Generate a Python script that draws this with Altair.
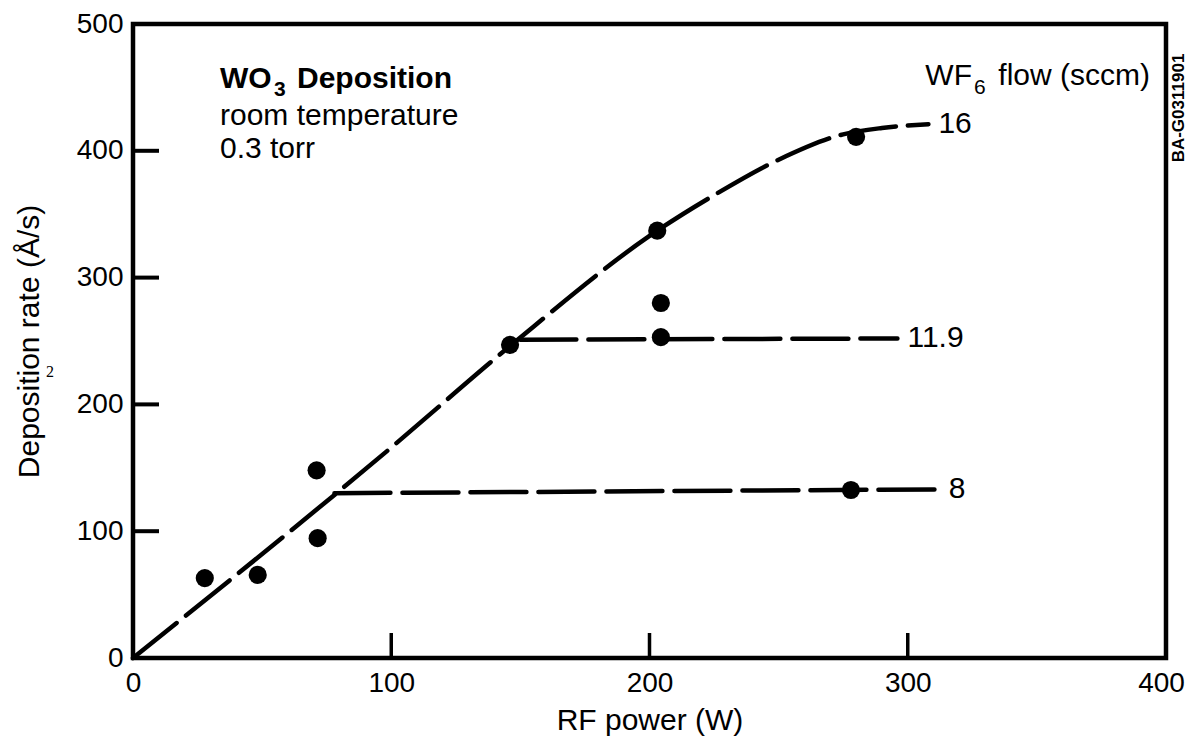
import altair as alt
import pandas as pd

# ---------------- data ----------------
x_tick_values = [0, 100, 200, 300, 400]
y_tick_values = [0, 100, 200, 300, 400, 500]
inner_x_ticks = [100, 200, 300]
inner_y_ticks = [100, 200, 300, 400]

# measured points (RF power W, deposition rate A/s)
pt_power = [27.8, 48.3, 71.1, 71.5, 146, 203, 204.4, 204.4, 280, 278]
pt_rate = [63, 65.5, 148, 94.5, 247, 337, 280, 253, 411, 132.5]

# dashed guide curves per WF6 flow (sccm)
flow16_power = [0, 100, 146, 203, 225, 250, 275, 290, 308]
flow16_rate = [0, 166, 246, 337, 365, 393, 413, 418, 421]
flow119_power = [150, 296]
flow119_rate = [251, 252]
flow8_power = [78, 312]
flow8_rate = [130, 133]
flow_names = ["16", "11.9", "8"]

# ---------------- tables ----------------
rows = []
for name, xs, ys in zip(flow_names,
                        [flow16_power, flow119_power, flow8_power],
                        [flow16_rate, flow119_rate, flow8_rate]):
    for i, (a, b) in enumerate(zip(xs, ys)):
        rows.append({"flow": name, "i": i, "power": a, "rate": b})
lines_df = pd.DataFrame(rows)
ends_df = lines_df.sort_values("i").groupby("flow", sort=False).tail(1)
pts_df = pd.DataFrame({"power": pt_power, "rate": pt_rate})
yt_df = pd.DataFrame({"rate": inner_y_ticks})
xt_df = pd.DataFrame({"power": inner_x_ticks})

FONT = "Liberation Sans"
W, H = 1033, 634

xscale = alt.Scale(domain=[0, 400], nice=False, zero=False)
yscale = alt.Scale(domain=[0, 500], nice=False, zero=False)
xaxis = alt.Axis(values=x_tick_values, title="RF power (W)", domain=False, ticks=False,
                 grid=False, labelFontSize=28, labelFont=FONT, labelColor="black",
                 labelPadding=11, titleFont=FONT, titleFontSize=30, titleFontWeight="normal",
                 titleColor="black", titlePadding=8, labelFlush=False,
                 labelOffset={"condition": {"test": "datum.value === 400", "value": -5},
                              "value": 0})
yaxis = alt.Axis(values=y_tick_values, title="Deposition rate (Å/s)", domain=False, ticks=False,
                 grid=False, labelFontSize=28, labelFont=FONT, labelColor="black",
                 labelPadding=10, titleFont=FONT, titleFontSize=30, titleFontWeight="normal",
                 titleColor="black", titlePadding=32, labelFlush=False)


def X():
    return alt.X("power:Q", scale=xscale, axis=xaxis)


def Y():
    return alt.Y("rate:Q", scale=yscale, axis=yaxis)


lines = alt.Chart(lines_df).mark_line(
    color="black", strokeWidth=4.5, strokeDash=[56, 12], strokeCap="round",
    interpolate="monotone", clip=False
).encode(x=X(), y=Y(), detail="flow:N", order="i:Q")

points = alt.Chart(pts_df).mark_point(
    filled=True, shape="circle", size=330, color="black", opacity=1
).encode(x=X(), y=Y())

end_labels = alt.Chart(ends_df).mark_text(
    align="left", baseline="middle", dx=10, font=FONT, fontSize=30, color="black"
).encode(x=X(), y=Y(), text="flow:N")

y_ticks = alt.Chart(yt_df).mark_rule(color="black", strokeWidth=4).encode(
    y=Y(), x=alt.value(0), x2=alt.value(26))
x_ticks = alt.Chart(xt_df).mark_rule(color="black", strokeWidth=3.5).encode(
    x=X(), y=alt.value(H), y2=alt.value(H - 25))


def note(txt, x, y, **kw):
    kw.setdefault("baseline", "alphabetic")
    return alt.Chart(pd.DataFrame({"t": [txt]})).mark_text(
        font=FONT, color="black", **kw
    ).encode(text="t:N", x=alt.value(x), y=alt.value(y))


notes = [
    note("WO", 87, 64, align="left", fontSize=30, fontWeight="bold"),
    note("3", 141, 72, align="left", fontSize=21, fontWeight="bold"),
    note("Deposition", 164, 64, align="left", fontSize=30, fontWeight="bold"),
    note("room temperature", 87, 101, align="left", fontSize=30),
    note("0.3 torr", 87, 134, align="left", fontSize=30),
    note("WF", 839, 61, align="right", fontSize=30),
    note("6", 841, 70, align="left", fontSize=21),
    note("flow (sccm)", 1017, 61, align="right", fontSize=30),
    note("BA-G0311901", 1046, 84, align="center", baseline="middle", angle=270,
         fontSize=17, fontWeight="bold"),
]
stray = alt.Chart(pd.DataFrame({"t": ["2"]})).mark_text(
    font="Liberation Serif", fontSize=16, color="black", align="center", baseline="middle"
).encode(text="t:N", x=alt.value(-83), y=alt.value(348))

chart = alt.layer(lines, points, end_labels, y_ticks, x_ticks, *notes, stray).properties(
    width=W, height=H,
    autosize=alt.AutoSizeParams(type="none"),
    padding={"left": 125, "top": 16, "right": 22, "bottom": 80},
    background="white",
).configure_view(stroke="black", strokeWidth=4.5)

chart.save("out.html", embed_options={"renderer": "svg", "actions": False})
